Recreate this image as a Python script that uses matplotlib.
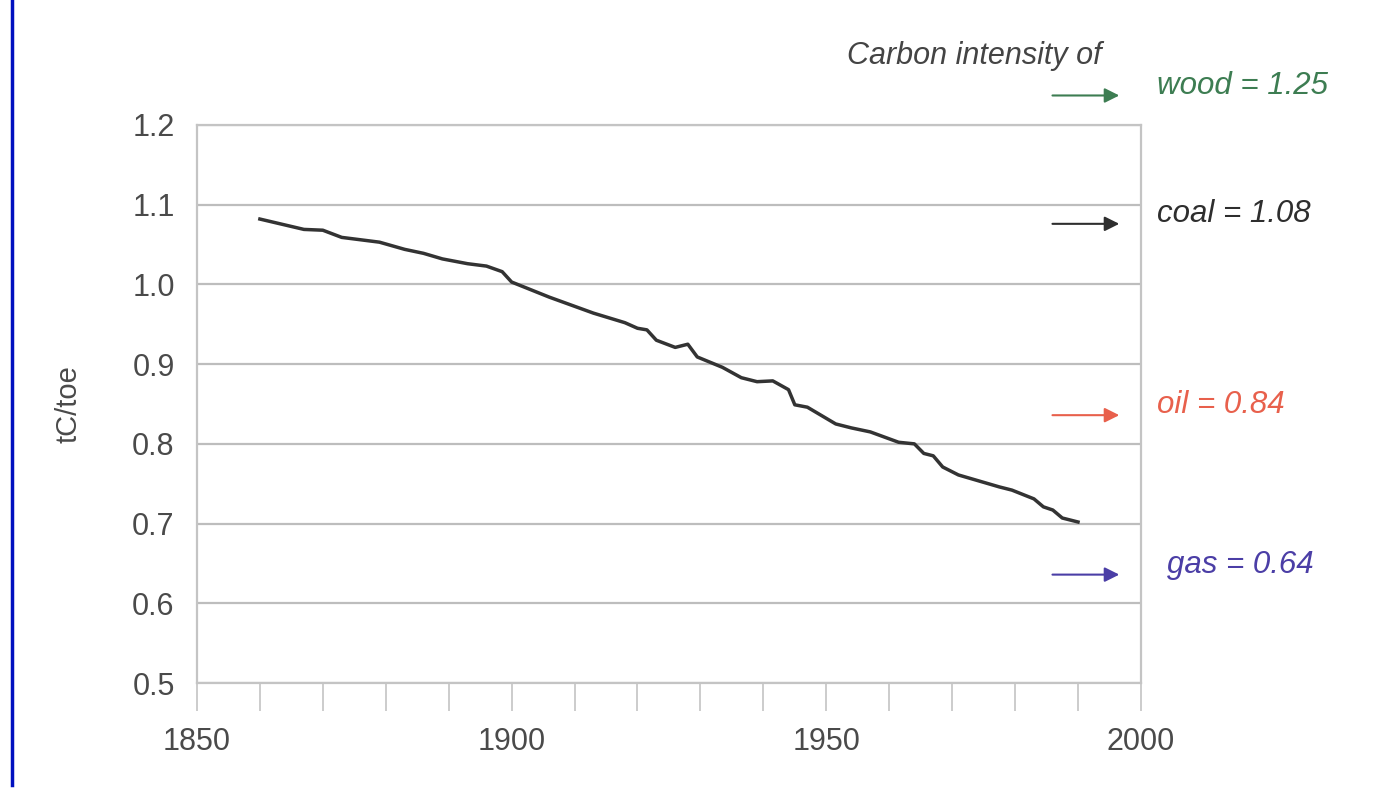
import matplotlib
matplotlib.use("Agg")
import matplotlib.pyplot as plt
from matplotlib.lines import Line2D

plt.rcParams['font.family'] = ['Liberation Sans', 'DejaVu Sans']

# carbon intensity of world primary energy, tC/toe
anos = [1860, 1867, 1870, 1873, 1879, 1883, 1886, 1889, 1893, 1896, 1898.5, 1900,
        1906, 1913, 1918, 1920, 1921.5, 1923, 1926, 1928, 1929.5, 1933.5, 1936.5,
        1939, 1941.5, 1944, 1945, 1947, 1951.5, 1954, 1957, 1961.5, 1964, 1965.5,
        1967, 1968.5, 1971, 1977.5, 1979.5, 1983, 1984.5, 1986, 1987.5, 1990]
intensidade = [1.082, 1.069, 1.068, 1.059, 1.053, 1.044, 1.039, 1.032, 1.026, 1.023,
               1.016, 1.003, 0.984, 0.964, 0.952, 0.945, 0.943, 0.930, 0.921, 0.925,
               0.909, 0.896, 0.883, 0.878, 0.879, 0.868, 0.849, 0.846, 0.825, 0.820,
               0.815, 0.802, 0.800, 0.788, 0.785, 0.771, 0.761, 0.746, 0.742, 0.731,
               0.721, 0.717, 0.707, 0.702]

combustiveis = ['wood', 'coal', 'oil', 'gas']
valores = [1.25, 1.08, 0.84, 0.64]
cores = ['#3d7d52', '#2e2e2e', '#e8604c', '#4b3ea6']

fig = plt.figure(figsize=(13.88, 7.89), dpi=100)
ax = fig.add_axes([0.1419, 0.1343, 0.6801, 0.7073])

cinza = '#c4c4c4'
ax.plot(anos, intensidade, color='#333333', lw=2.5, zorder=3)

ax.set_xlim(1850, 2000)
ax.set_ylim(0.5, 1.2)
ax.set_yticks([0.5, 0.6, 0.7, 0.8, 0.9, 1.0, 1.1, 1.2])
ax.set_yticklabels(['0.5', '0.6', '0.7', '0.8', '0.9', '1.0', '1.1', '1.2'])
ax.set_xticks([1850, 1900, 1950, 2000])
ax.set_xticks(range(1860, 2000, 10), minor=True)
ax.grid(axis='y', color='#bdbdbd', lw=1.6)
ax.set_axisbelow(True)

ax.tick_params(axis='y', length=0, pad=16, labelsize=22, labelcolor='#4a4a4a')
ax.tick_params(axis='x', which='both', direction='out', length=20, width=1.2,
               color=cinza, labelsize=22, labelcolor='#4a4a4a', pad=12)
for s in ax.spines.values():
    s.set_color(cinza)
    s.set_linewidth(1.6)

ax.set_ylabel('tC/toe', fontsize=21, color='#4a4a4a', labelpad=36)

ax.text(1953.3, 1.287, 'Carbon intensity of', fontsize=22, style='italic',
        color='#444444', va='center', ha='left', clip_on=False)

for nome, v, c in zip(combustiveis, valores, cores):
    # no original a seta da madeira fica um pouco abaixo de 1.25
    y = v - 0.013 if nome == 'wood' else v - 0.004
    ax.annotate('', xy=(1997, y), xytext=(1985.5, y),
                arrowprops=dict(arrowstyle='-|>', color=c, lw=1.5, mutation_scale=22),
                annotation_clip=False)
    x_txt = 2004.1 if nome == 'gas' else 2002.5
    ax.annotate(f'{nome} = {v:.2f}', xy=(x_txt, y), xytext=(0, 7),
                textcoords='offset points', fontsize=22.5, style='italic',
                color=c, va='center', ha='left', annotation_clip=False)

# linha azul na margem esquerda
fig.add_artist(Line2D([0.0086, 0.0086], [0.005, 1.0], color='#0010c0', lw=2.5,
                      transform=fig.transFigure))

fig.savefig('out.png', dpi=100, facecolor='white')
